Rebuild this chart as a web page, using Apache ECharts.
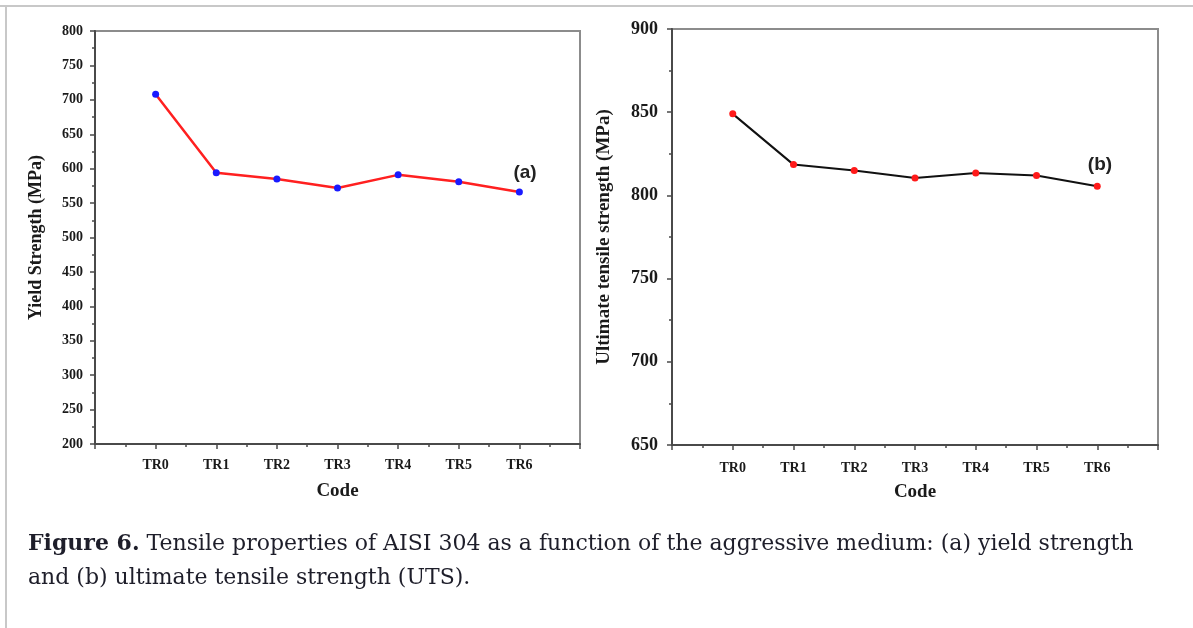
<!DOCTYPE html>
<html>
<head>
<meta charset="utf-8">
<script src="https://cdn.jsdelivr.net/npm/echarts@6/dist/echarts.min.js"></script>
<style>
html,body{margin:0;padding:0;background:#fff;}
#chart{width:1193px;height:628px;}
</style>
</head>
<body>
<div id="chart"></div>
<script>
const categories = ['TR0','TR1','TR2','TR3','TR4','TR5','TR6'];
const yieldStrength = [708, 594, 585, 572, 591, 581, 566];
const uts = [849, 818.5, 815, 810.5, 813.5, 812, 805.5];
const yieldTicks = {min: 200, max: 800, interval: 50};
const utsTicks = {min: 650, max: 900, interval: 50};

const serif = 'Liberation Serif';
const axisDark = '#4a4a4a';

function xAxisCfg(gridIndex, labelSize, margin){
  return {
    gridIndex: gridIndex, type: 'value', min: -1, max: 7, interval: 1,
    name: 'Code', nameLocation: 'middle', nameGap: 38,
    nameTextStyle: {fontFamily: serif, fontWeight: 'bold', fontSize: 19, color: '#1a1a1a'},
    axisLine: {show: true, onZero: false, lineStyle: {color: axisDark, width: 2}},
    axisTick: {show: true, length: 5, lineStyle: {color: axisDark, width: 1.5}},
    minorTick: {show: true, splitNumber: 2, length: 3, lineStyle: {color: axisDark, width: 1.5}},
    splitLine: {show: false},
    axisLabel: {
      margin: margin, fontFamily: serif, fontWeight: 'bold', fontSize: labelSize, color: '#1a1a1a',
      formatter: v => categories[v] || ''
    }
  };
}
function yAxisCfg(gridIndex, ticks, name, labelSize, nameSize, nameGap, margin){
  return {
    gridIndex: gridIndex, type: 'value', min: ticks.min, max: ticks.max, interval: ticks.interval,
    name: name, nameLocation: 'middle', nameGap: nameGap, nameRotate: 90,
    nameTextStyle: {fontFamily: serif, fontWeight: 'bold', fontSize: nameSize, color: '#1a1a1a'},
    axisLine: {show: true, onZero: false, lineStyle: {color: axisDark, width: 2}},
    axisTick: {show: true, length: 5, lineStyle: {color: axisDark, width: 1.5}},
    minorTick: {show: true, splitNumber: 2, length: 3, lineStyle: {color: axisDark, width: 1.5}},
    splitLine: {show: false},
    axisLabel: {margin: margin, fontFamily: serif, fontWeight: 'bold', fontSize: labelSize, color: '#1a1a1a'}
  };
}

const chart = echarts.init(document.getElementById('chart'));
chart.setOption({
  animation: false,
  backgroundColor: '#fff',
  grid: [
    {left: 95, top: 31, width: 485, height: 413, show: true, borderColor: '#8c8c8c', borderWidth: 2, backgroundColor: 'transparent'},
    {left: 672, top: 29, width: 486, height: 416, show: true, borderColor: '#8c8c8c', borderWidth: 2, backgroundColor: 'transparent'}
  ],
  xAxis: [xAxisCfg(0, 14, 14), xAxisCfg(1, 14, 16)],
  yAxis: [
    yAxisCfg(0, yieldTicks, 'Yield Strength (MPa)', 14, 18, 50, 12),
    yAxisCfg(1, utsTicks, 'Ultimate tensile strength (MPa)', 18, 19, 58, 14)
  ],
  series: [
    {
      type: 'line', xAxisIndex: 0, yAxisIndex: 0,
      data: categories.map((c, i) => [i, yieldStrength[i]]),
      lineStyle: {color: '#ff2020', width: 2.5},
      itemStyle: {color: '#1a1aff'},
      symbol: 'circle', symbolSize: 7, showSymbol: true
    },
    {
      type: 'line', xAxisIndex: 1, yAxisIndex: 1,
      data: categories.map((c, i) => [i, uts[i]]),
      lineStyle: {color: '#111', width: 2},
      itemStyle: {color: '#ff1a1a'},
      symbol: 'circle', symbolSize: 7, showSymbol: true
    }
  ],
  graphic: [
    {type: 'line', shape: {x1: 0, y1: 6, x2: 1193, y2: 6}, style: {stroke: '#c8c8c8', lineWidth: 2}},
    {type: 'line', shape: {x1: 6, y1: 6, x2: 6, y2: 628}, style: {stroke: '#c8c8c8', lineWidth: 2}},
    {type: 'text', x: 525, y: 173, style: {text: '(a)', fontFamily: 'Liberation Sans', fontWeight: 'bold', fontSize: 19, fill: '#222', align: 'center', verticalAlign: 'middle'}},
    {type: 'text', x: 1100, y: 165, style: {text: '(b)', fontFamily: 'Liberation Sans', fontWeight: 'bold', fontSize: 19, fill: '#222', align: 'center', verticalAlign: 'middle'}},
    {type: 'text', x: 28, y: 544, style: {
      text: '{b|Figure 6.} Tensile properties of AISI 304 as a function of the aggressive medium: (a) yield strength',
      fontFamily: 'DejaVu Serif', fontSize: 22, fill: '#1e1e2a', verticalAlign: 'middle',
      rich: {b: {fontFamily: 'DejaVu Serif', fontWeight: 'bold', fontSize: 22, fill: '#1e1e2a'}}
    }},
    {type: 'text', x: 28, y: 578, style: {
      text: 'and (b) ultimate tensile strength (UTS).',
      fontFamily: 'DejaVu Serif', fontSize: 22, fill: '#1e1e2a', verticalAlign: 'middle'
    }}
  ]
});
</script>
</body>
</html>
